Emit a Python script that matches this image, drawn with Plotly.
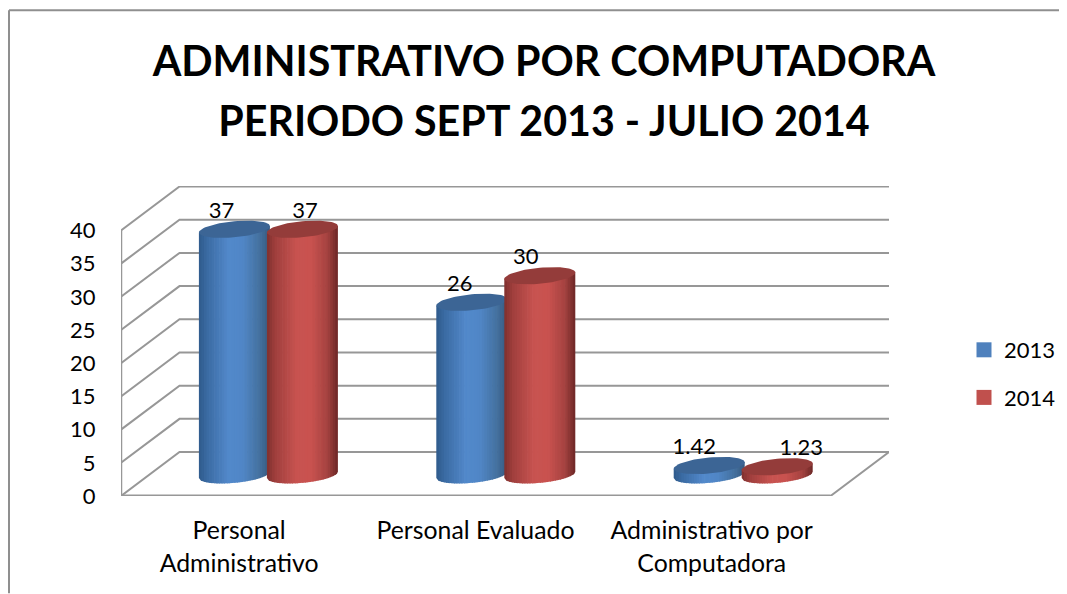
import numpy as np
import plotly.graph_objects as go

categories = ["Personal<br>Administrativo", "Personal Evaluado", "Administrativo por<br>Computadora"]
years = ["2013", "2014"]
values_2013 = [37, 26, 1.42]
values_2014 = [37, 30, 1.23]
labels_2013 = ["37", "26", "1.42"]
labels_2014 = ["37", "30", "1.23"]
y_ticks = [0, 5, 10, 15, 20, 25, 30, 35, 40]

# the page's body margin places the figure 8 px in from the window corner
OFF = 8
W, H = 1067 - OFF, 594 - OFF
L, R, T, B = 121 - OFF, 889 - OFF, 186 - OFF, 496.5 - OFF
PX_X = 236.3          # pixels per category
PX_Y = 6.65           # pixels per value unit
DX, DY = 58.5 / PX_X, 44 / PX_Y   # depth of the 3D box
GRAY = "#979797"
FONT = "Lato"

x_min = -0.5
x_max = x_min + (R - L) / PX_X
y_max = (B - T) / PX_Y

# cylinder geometry
half_w = 35.5 / PX_X
sep = 34 / PX_X
step = 237.4 / PX_X
rb = 8.0 / PX_Y
tilt = (3.2 / PX_Y) / half_w
base = DY * 0.48
x_shift = DX * 0.5

blue_stops = [(0, "#2f5b8c"), (0.12, "#3b6ba3"), (0.42, "#5289cb"), (0.62, "#5086c6"), (0.85, "#44719f"), (1, "#36587f")]
red_stops = [(0, "#7f302e"), (0.12, "#a03f3d"), (0.42, "#c85350"), (0.62, "#c9524f"), (0.85, "#a54240"), (1, "#6c2726")]
cap_colors = ["#3c6595", "#943c3a"]
legend_colors = ["#4f81bd", "#c0504d"]


def mix(stops, f):
    for (a, ca), (b, cb) in zip(stops, stops[1:]):
        if f <= b:
            w = (f - a) / (b - a)
            c1 = [int(ca[i:i + 2], 16) for i in (1, 3, 5)]
            c2 = [int(cb[i:i + 2], 16) for i in (1, 3, 5)]
            return "rgb(%d,%d,%d)" % tuple(round(p + (q - p) * w) for p, q in zip(c1, c2))
    return stops[-1][1]


fig = go.Figure()


def add_line(xs, ys, width=2):
    fig.add_trace(go.Scatter(x=xs, y=ys, mode="lines", line=dict(color=GRAY, width=width),
                             showlegend=False, hoverinfo="skip", cliponaxis=False))


# walls and floor
for v in y_ticks[1:]:
    add_line([x_min, x_min + DX, x_max], [v, v + DY, v + DY])
add_line([x_min, x_min], [0, y_ticks[-1]], 2.5)
add_line([x_min, x_min + DX, x_max, x_max - DX, x_min], [0, DY, DY, 0, 0], 2)
add_line([x_min, x_max - DX], [0, 0], 3)


def cylinder(cx, value, stops, cap):
    top = base + value
    n = 28
    edges = np.linspace(-half_w, half_w, n + 1)
    for i in range(n):
        u1, u2 = edges[i], min(edges[i + 1] + 0.003, half_w)
        us = np.linspace(u1, u2, 4)
        low = base + tilt * us - rb * np.sqrt(np.clip(1 - (us / half_w) ** 2, 0, 1))
        upper = top + tilt * np.array([u2, u1])
        fig.add_trace(go.Scatter(
            x=np.r_[cx + us, cx + u2, cx + u1], y=np.r_[low, upper], mode="lines",
            fill="toself", fillcolor=mix(stops, (i + 0.5) / n), line=dict(width=0),
            showlegend=False, hoverinfo="skip"))
    t = np.linspace(0, 2 * np.pi, 73)
    ux = half_w * np.cos(t)
    fig.add_trace(go.Scatter(
        x=cx + ux, y=top + tilt * ux + rb * np.sin(t), mode="lines", fill="toself",
        fillcolor=cap, line=dict(width=0), showlegend=False, hoverinfo="skip"))


label_x, label_y, label_t = [], [], []
label_dx = [[-13, -12, -15], [2.5, -14, 24]]
label_dy = [17, 17, 17]
for s, (vals, labs, stops) in enumerate(zip([values_2013, values_2014], [labels_2013, labels_2014], [blue_stops, red_stops])):
    for c, (v, lab) in enumerate(zip(vals, labs)):
        cx = c * step + x_shift + (-sep if s == 0 else sep)
        cylinder(cx, v, stops, cap_colors[s])
        label_x.append(cx + label_dx[s][c] / PX_X)
        label_y.append(base + v + label_dy[c] / PX_Y)
        label_t.append(lab)

fig.add_trace(go.Scatter(x=label_x, y=label_y, text=label_t, mode="text",
                         textposition="middle center", textfont=dict(family=FONT, size=22, color="black"),
                         showlegend=False, hoverinfo="skip", cliponaxis=False))

for name, col in zip(years, legend_colors):
    fig.add_trace(go.Scatter(x=[None], y=[None], mode="markers", name=name, legendgroup=name,
                             marker=dict(symbol="square", size=15, color=col)))

fx = 9 - OFF
fy = 10 - OFF
frame = [
    dict(type="line", xref="paper", yref="paper", x0=(fx - L) / (R - L), x1=(fx - L) / (R - L),
         y0=(B - H) / (B - T), y1=(B - fy) / (B - T), line=dict(color="#8f8f8f", width=2)),
    dict(type="line", xref="paper", yref="paper", x0=(fx - L) / (R - L), x1=(W - L) / (R - L),
         y0=(B - fy) / (B - T), y1=(B - fy) / (B - T), line=dict(color="#8f8f8f", width=2)),
]


def big(line):
    return '<span style="font-size:41.2px">' + line + "</span>"


fig.update_layout(
    width=W, height=H, autosize=False, paper_bgcolor="white", plot_bgcolor="white",
    margin=dict(l=L, r=W - R, t=T, b=H - B, pad=0),
    font=dict(family=FONT, color="black"),
    title=dict(text="<b>" + big("ADMINISTRATIVO POR COMPUTADORA") + "<br>" + big("PERIODO SEPT 2013 - JULIO 2014") + "</b>",
               x=(544 - OFF) / W, xanchor="center", y=1 - 68 / H, yanchor="middle",
               font=dict(family=FONT, size=46, color="black")),
    xaxis=dict(range=[x_min, x_max], tickmode="array", tickvals=[0, 1, 2], ticktext=categories,
               showgrid=False, zeroline=False, showline=False, ticks="outside", ticklen=12.5,
               tickcolor="rgba(0,0,0,0)", tickfont=dict(family=FONT, size=24.8, color="black")),
    yaxis=dict(range=[0, y_max], tickmode="array", tickvals=y_ticks, showgrid=False, zeroline=False,
               showline=False, ticks="outside", ticklen=20, tickcolor="rgba(0,0,0,0)",
               tickfont=dict(family=FONT, size=22, color="black")),
    legend=dict(xref="container", yref="container", x=(964 - OFF) / W, xanchor="left", y=1 - (329 - OFF) / H, yanchor="top",
                font=dict(family=FONT, size=22, color="black"), tracegroupgap=16, bgcolor="rgba(0,0,0,0)"),
    shapes=frame,
    showlegend=True,
)

fig.write_html("out.html")
